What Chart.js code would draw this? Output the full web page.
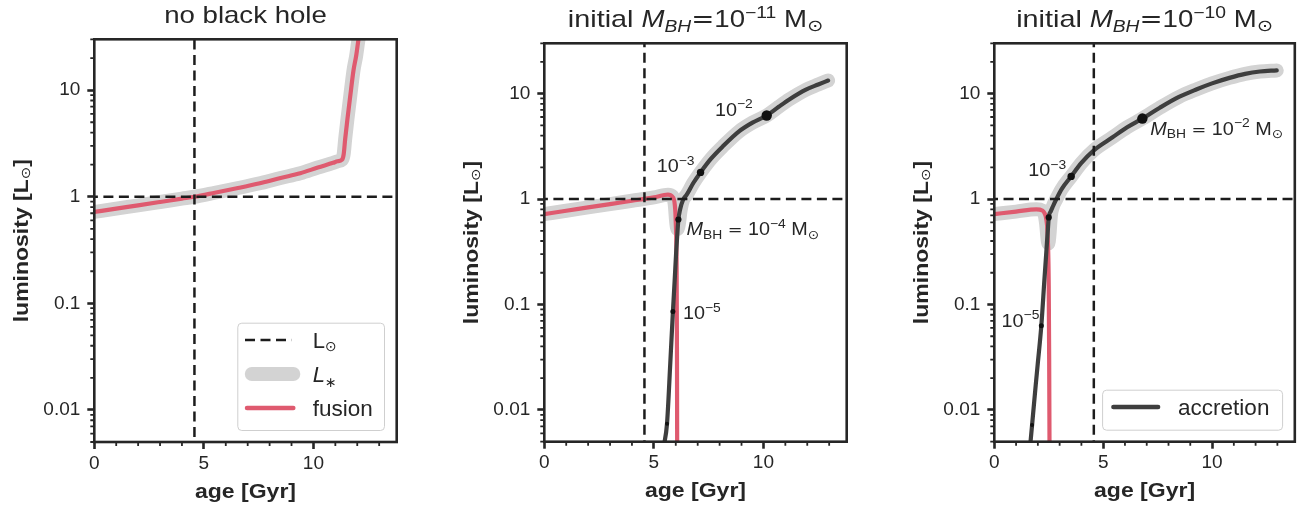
<!DOCTYPE html>
<html><head><meta charset="utf-8">
<script src="https://cdn.jsdelivr.net/npm/chart.js@4.4.1/dist/chart.umd.min.js"></script>
<style>
html,body{margin:0;padding:0;background:#fff;}
#wrap{position:relative;width:1300px;height:507px;overflow:hidden;background:#fff;}
.pnl{position:absolute;top:0;}
canvas{display:block;}
</style></head><body>
<div id="wrap">
<div class="pnl" style="left:0px"><canvas id="c1" width="440" height="507"></canvas></div>
<div class="pnl" style="left:440px"><canvas id="c2" width="440" height="507"></canvas></div>
<div class="pnl" style="left:880px"><canvas id="c3" width="420" height="507"></canvas></div>
</div>
<script>
// ---------------- data ----------------
const xTicks = [0, 5, 10];
const xTickLabels = ['0', '5', '10'];
const yTicks = [0.01, 0.1, 1, 10];
const yTickLabels = ['0.01', '0.1', '1', '10'];
const sunAge = 4.57;   // Gyr
const sunLum = 1;      // L_sun

// panel 1: no black hole (L_* = fusion)
const p1Age    = [0, 1, 2, 3, 4, 4.57, 5.5, 6.5, 7.5, 8.5, 9.4, 10.2, 10.9, 11.1, 11.3, 11.38, 11.45, 11.55, 11.68, 11.83, 11.95, 12.05, 12.15];
const p1Fusion = [0.72, 0.774, 0.831, 0.893, 0.96, 1.0, 1.09, 1.2, 1.33, 1.5, 1.66, 1.88, 2.08, 2.15, 2.22, 2.5, 3.5, 5.3, 8.8, 15.4, 21, 29.4, 40];

// panel 2: initial M_BH = 1e-11
const p2FusionAge = [0, 1, 2, 3, 4, 5, 5.64, 5.85, 5.95, 6.0, 6.04, 6.055, 6.065];
const p2Fusion    = [0.72, 0.774, 0.833, 0.896, 0.963, 1.036, 1.1, 1.05, 0.9, 0.6, 0.2, 0.03, 0.003];
const p2AccAge = [5.45, 5.6, 5.75, 5.87, 5.95, 6.02, 6.08, 6.12, 6.2, 6.33, 6.5, 6.8, 7.13, 7.6, 8.15, 8.9, 9.5, 10.15, 10.7, 11.18, 11.94, 12.5, 12.95];
const p2Acc    = [0.0045, 0.0074, 0.028, 0.086, 0.17, 0.32, 0.5, 0.64, 0.8, 0.98, 1.1, 1.42, 1.79, 2.4, 3.16, 4.4, 5.3, 6.2, 7.5, 8.8, 10.9, 12.2, 13.3];
const p2StarAge = [0, 1, 2, 3, 4, 5, 5.64, 5.85, 5.95, 6.02, 6.08, 6.14, 6.22, 6.33, 6.5, 6.8, 7.13, 7.6, 8.15, 8.9, 9.5, 10.15, 10.7, 11.18, 11.94, 12.5, 12.95];
const p2Star    = [0.72, 0.774, 0.833, 0.896, 0.963, 1.036, 1.1, 1.06, 0.9, 0.6, 0.52, 0.58, 0.78, 0.98, 1.1, 1.42, 1.79, 2.4, 3.16, 4.4, 5.3, 6.2, 7.5, 8.8, 10.9, 12.2, 13.3];
const p2MarkAge = [5.6, 5.87, 6.12, 7.13, 10.15];
const p2MarkLum = [0.0074, 0.086, 0.64, 1.79, 6.2];
const p2MarkExp = [-6, -5, -4, -3, -2];   // log10 M_BH / M_sun

// panel 3: initial M_BH = 1e-10
const p3FusionAge = [0, 1, 1.93, 2.2, 2.3, 2.39, 2.45, 2.5, 2.52, 2.535, 2.545];
const p3Fusion    = [0.72, 0.76, 0.8, 0.78, 0.74, 0.64, 0.45, 0.15, 0.03, 0.005, 0.001];
const p3AccAge = [1.6, 1.735, 1.9, 2.0, 2.16, 2.3, 2.4, 2.47, 2.5, 2.6, 2.69, 2.85, 3.1, 3.53, 4.0, 4.57, 5.43, 6.1, 6.8, 7.6, 8.48, 9.3, 10.0, 10.8, 11.52, 12.2, 12.97];
const p3Acc    = [0.0036, 0.0072, 0.017, 0.028, 0.063, 0.17, 0.34, 0.55, 0.67, 0.77, 0.85, 1.0, 1.25, 1.64, 2.2, 2.9, 3.85, 4.8, 5.8, 7.35, 9.3, 11.0, 12.5, 14.1, 15.4, 16.2, 16.6];
const p3StarAge = [0, 1, 1.93, 2.2, 2.3, 2.38, 2.44, 2.48, 2.53, 2.6, 2.69, 2.85, 3.1, 3.53, 4.0, 4.57, 5.43, 6.1, 6.8, 7.6, 8.48, 9.3, 10.0, 10.8, 11.52, 12.2, 12.97];
const p3Star    = [0.72, 0.76, 0.8, 0.78, 0.73, 0.58, 0.43, 0.38, 0.45, 0.7, 0.85, 1.0, 1.25, 1.64, 2.2, 2.9, 3.85, 4.8, 5.8, 7.35, 9.3, 11.0, 12.5, 14.1, 15.4, 16.2, 16.6];
const p3MarkAge = [1.735, 2.16, 2.5, 3.53, 6.8];
const p3MarkLum = [0.0072, 0.063, 0.67, 1.64, 5.8];
const p3MarkExp = [-6, -5, -4, -3, -2];

const titles = ['no black hole', 'initial', 'initial'];
const initialExp = [null, -11, -10];

// ---------------- styles ----------------
const INK = '#262626';
const RED = '#df5a6f';
const DARK = '#3e3e3e';
const LIGHT = '#d3d3d3';
const FT = '"Liberation Sans", Arial, sans-serif';
const FD = '"DejaVu Sans", sans-serif';
const markerRadius = {'-6': 2, '-5': 2.5, '-4': 3.1, '-3': 3.7, '-2': 5.2};

function pts(a, b) { return a.map((x, i) => ({x: x, y: b[i]})); }

function R(t, size, o) { o = o || {}; return {t: t, size: size, family: o.family || FT, style: o.style || 'normal', weight: o.weight || 'normal', dy: o.dy || 0}; }
function drawRuns(ctx, runs, x, y, align, stretch) {
  let w = 0;
  for (const r of runs) { ctx.font = r.style + ' ' + r.weight + ' ' + r.size + 'px ' + r.family; r.w = ctx.measureText(r.t).width; w += r.w; }
  const W = w * stretch;
  const x0 = align === 'center' ? x - W / 2 : (align === 'right' ? x - W : x);
  ctx.save();
  ctx.translate(x0, y); ctx.scale(stretch, 1);
  ctx.textAlign = 'left'; ctx.textBaseline = 'alphabetic'; ctx.fillStyle = INK;
  let cx = 0;
  for (const r of runs) { ctx.font = r.style + ' ' + r.weight + ' ' + r.size + 'px ' + r.family; ctx.fillText(r.t, cx, r.dy); cx += r.w; }
  ctx.restore();
}
function pow10(e, b) { return [R('10', b), R('\u2212' + Math.abs(e), b * 0.7, {dy: -b * 0.42})]; }
function mbh(italSub, b) { return [R('M', b, {style: 'italic'}), R('BH', b * 0.7, {style: italSub ? 'italic' : 'normal', dy: b * 0.2})]; }
function msun(b) { return [R(' M', b), R('\u2299', b * 0.7, {family: FD, dy: b * 0.17})]; }

// annotation placement (pixel offsets from marker)
const annot = [
  [],
  [{exp: -2, kind: 's', dx: -14, dy: 0, align: 'right'}, {exp: -3, kind: 's', dx: -6, dy: 0, align: 'right'},
   {exp: -4, kind: 'l', dx: 8, dy: 16, align: 'left'}, {exp: -5, kind: 's', dx: 10, dy: 8, align: 'left'}],
  [{exp: -2, kind: 'l', dx: 8, dy: 16, align: 'left'}, {exp: -3, kind: 's', dx: -5, dy: 0, align: 'right'},
   {exp: -5, kind: 's', dx: -2, dy: 1, align: 'right'}]
];

function makeDeco(idx, markAge, markLum, markExp, legend) {
  return {
    id: 'deco' + idx,
    afterDraw(chart) {
      const ctx = chart.ctx, a = chart.chartArea, xs = chart.scales.x, ys = chart.scales.y;
      ctx.save();
      // minor ticks
      ctx.strokeStyle = INK; ctx.lineWidth = 1.8; ctx.lineCap = 'butt';
      ctx.beginPath();
      for (let v = 1; v <= 13; v++) { if (v % 5 === 0) continue; const px = xs.getPixelForValue(v); ctx.moveTo(px, a.bottom); ctx.lineTo(px, a.bottom + 4); }
      for (let d = -3; d <= 1; d++) for (let k = 2; k <= 9; k++) {
        const v = k * Math.pow(10, d); if (v < 0.005 || v > 30) continue;
        const py = ys.getPixelForValue(v); ctx.moveTo(a.left, py); ctx.lineTo(a.left - 4, py);
      }
      ctx.stroke();
      // spines
      ctx.lineWidth = 2.6; ctx.strokeStyle = INK;
      ctx.strokeRect(a.left, a.top, a.right - a.left, a.bottom - a.top);
      // title
      const cxm = (a.left + a.right) / 2;
      if (initialExp[idx] === null) {
        drawRuns(ctx, [R(titles[idx], 24)], cxm, a.top - 16, 'center', 1.15);
      } else {
        const runs = [R(titles[idx] + ' ', 24), R('M', 23, {style: 'italic'}), R('BH', 16, {style: 'italic', dy: 4.5}),
                      R('=', 23, {family: FD})].concat(pow10(initialExp[idx], 23), msun(23));
        drawRuns(ctx, runs, cxm, a.top - 16, 'center', 1.2);
      }
      // axis labels
      drawRuns(ctx, [R('age [Gyr]', 20, {weight: 'bold'})], cxm, a.bottom + 55.7, 'center', 1.15);
      ctx.save();
      ctx.translate(a.left - 66.8, (a.top + a.bottom) / 2); ctx.rotate(-Math.PI / 2);
      drawRuns(ctx, [R('luminosity [L', 20, {weight: 'bold'}), R('\u2299', 13, {family: FD, dy: 2}), R(']', 20, {weight: 'bold'})], 0, 0, 'center', 1.15);
      ctx.restore();
      // annotations
      for (const an of annot[idx]) {
        const i = markExp.indexOf(an.exp);
        const px = xs.getPixelForValue(markAge[i]), py = ys.getPixelForValue(markLum[i]);
        const runs = an.kind === 's' ? pow10(an.exp, 18)
          : mbh(false, 18).concat([R(' ', 18), R('=', 16, {family: FD}), R(' ', 18)], pow10(an.exp, 18), msun(18));
        drawRuns(ctx, runs, px + an.dx, py + an.dy, an.align, 1.1);
      }
      // legend
      if (legend) {
        const bw = legend.w, bh = legend.h;
        const bx = a.right - 12.7 - bw, by = a.bottom - 12 - bh;
        ctx.fillStyle = 'rgba(255,255,255,0.85)'; ctx.strokeStyle = '#cfcfcf'; ctx.lineWidth = 1;
        ctx.beginPath(); ctx.roundRect(bx + 0.5, by + 0.5, bw, bh, 4); ctx.fill(); ctx.stroke();
        legend.rows.forEach((row, k) => {
          const yy = by + 17.3 + k * 34;
          ctx.save();
          ctx.strokeStyle = row.color; ctx.lineWidth = row.width; ctx.lineCap = row.dash ? 'butt' : 'round';
          ctx.setLineDash(row.dash || []);
          ctx.beginPath();
          ctx.moveTo(bx + row.x0, yy); ctx.lineTo(bx + row.x1, yy); ctx.stroke();
          ctx.restore();
          drawRuns(ctx, row.label, bx + legend.tx, yy + 8, 'left', 1.0);
        });
      }
      ctx.restore();
    }
  };
}

function baseOptions(pad) {
  return {
    responsive: false, animation: false, devicePixelRatio: 1,
    layout: {padding: pad},
    plugins: {legend: {display: false}, tooltip: {enabled: false}, title: {display: false}},
    elements: {point: {radius: 0}},
    scales: {
      x: {type: 'linear', min: 0, max: 13.8,
          afterBuildTicks: s => { s.ticks = xTicks.map(v => ({value: v})); },
          afterFit: s => { s.height = 40; },
          ticks: {callback: v => { const i = xTicks.indexOf(v); return i >= 0 ? xTickLabels[i] : ''; },
                  font: {family: FT, size: 19}, color: INK, padding: 3, maxRotation: 0, autoSkip: false},
          grid: {display: true, drawOnChartArea: false, drawTicks: true, tickLength: 7, tickWidth: 2.6, tickColor: INK},
          border: {display: false}},
      y: {type: 'logarithmic', min: 0.005, max: 30,
          afterBuildTicks: s => { s.ticks = yTicks.map(v => ({value: v})); },
          afterFit: s => { s.width = 60; },
          ticks: {callback: v => { const i = yTicks.findIndex(t => Math.abs(t - v) / t < 1e-6); return i >= 0 ? yTickLabels[i] : ''; },
                  font: {family: FT, size: 19}, color: INK, padding: 7, autoSkip: false},
          grid: {display: true, drawOnChartArea: false, drawTicks: true, tickLength: 7, tickWidth: 2.6, tickColor: INK},
          border: {display: false}}
    }
  };
}

function refLines() {
  return [
    {type: 'line', data: [{x: sunAge, y: 1e-4}, {x: sunAge, y: 1e3}], borderColor: '#1c1c1c', borderWidth: 2.5, borderDash: [10, 5.5], tension: 0, clip: 0, pointRadius: 0},
    {type: 'line', data: [{x: -1, y: sunLum}, {x: 20, y: sunLum}], borderColor: '#1c1c1c', borderWidth: 2.5, borderDash: [10, 5.5], tension: 0, clip: 0, pointRadius: 0}
  ];
}
function curve(data, color, width) {
  return {type: 'line', data: data, borderColor: color, borderWidth: width, cubicInterpolationMode: 'monotone', borderCapStyle: 'round', borderJoinStyle: 'round', clip: 0, pointRadius: 0};
}
function markers(ages, lums, exps) {
  return {type: 'scatter', data: pts(ages, lums), showLine: false, backgroundColor: '#111', borderWidth: 0,
          pointBackgroundColor: '#111', pointBorderWidth: 0, pointRadius: exps.map(e => markerRadius[String(e)]), clip: false};
}

const legend1 = {w: 146.7, h: 107.3, tx: 75.4, rows: [
  {color: '#1c1c1c', width: 2.5, dash: [10, 5.5], x0: 7.7, x1: 54.4, label: [R('L', 22), R('\u2299', 14, {family: FD, dy: 3})]},
  {color: LIGHT, width: 14, x0: 14.5, x1: 56, label: [R('L', 22, {style: 'italic'}), R('\u2217', 14, {family: FD, dy: 5})]},
  {color: RED, width: 4.5, x0: 9.7, x1: 56, label: [R('fusion', 22.5)]}
]};
const legend3 = {w: 180, h: 40, tx: 76, rows: [
  {color: DARK, width: 4.5, x0: 11.3, x1: 56, label: [R('accretion', 22.5)]}
]};

// panel 1
new Chart(document.getElementById('c1'), {
  type: 'line',
  data: {datasets: refLines().concat([curve(pts(p1Age, p1Fusion), RED, 4.2), curve(pts(p1Age, p1Fusion), LIGHT, 14)])},
  options: baseOptions({left: 34.3, right: 43.3, top: 39.3, bottom: 25}),
  plugins: [makeDeco(0, [], [], [], legend1)]
});
// panel 2
new Chart(document.getElementById('c2'), {
  type: 'line',
  data: {datasets: [markers(p2MarkAge, p2MarkLum, p2MarkExp)].concat(refLines(), [
    curve(pts(p2AccAge, p2Acc), DARK, 4.2), curve(pts(p2FusionAge, p2Fusion), RED, 4.2), curve(pts(p2StarAge, p2Star), LIGHT, 14)])},
  options: baseOptions({left: 44.3, right: 33.3, top: 43.3, bottom: 25.3}),
  plugins: [makeDeco(1, p2MarkAge, p2MarkLum, p2MarkExp, null)]
});
// panel 3
new Chart(document.getElementById('c3'), {
  type: 'line',
  data: {datasets: [markers(p3MarkAge, p3MarkLum, p3MarkExp)].concat(refLines(), [
    curve(pts(p3AccAge, p3Acc), DARK, 4.2), curve(pts(p3FusionAge, p3Fusion), RED, 4.2), curve(pts(p3StarAge, p3Star), LIGHT, 14)])},
  options: baseOptions({left: 54.3, right: 3.3, top: 43.3, bottom: 25.3}),
  plugins: [makeDeco(2, p3MarkAge, p3MarkLum, p3MarkExp, legend3)]
});
</script>
</body></html>
